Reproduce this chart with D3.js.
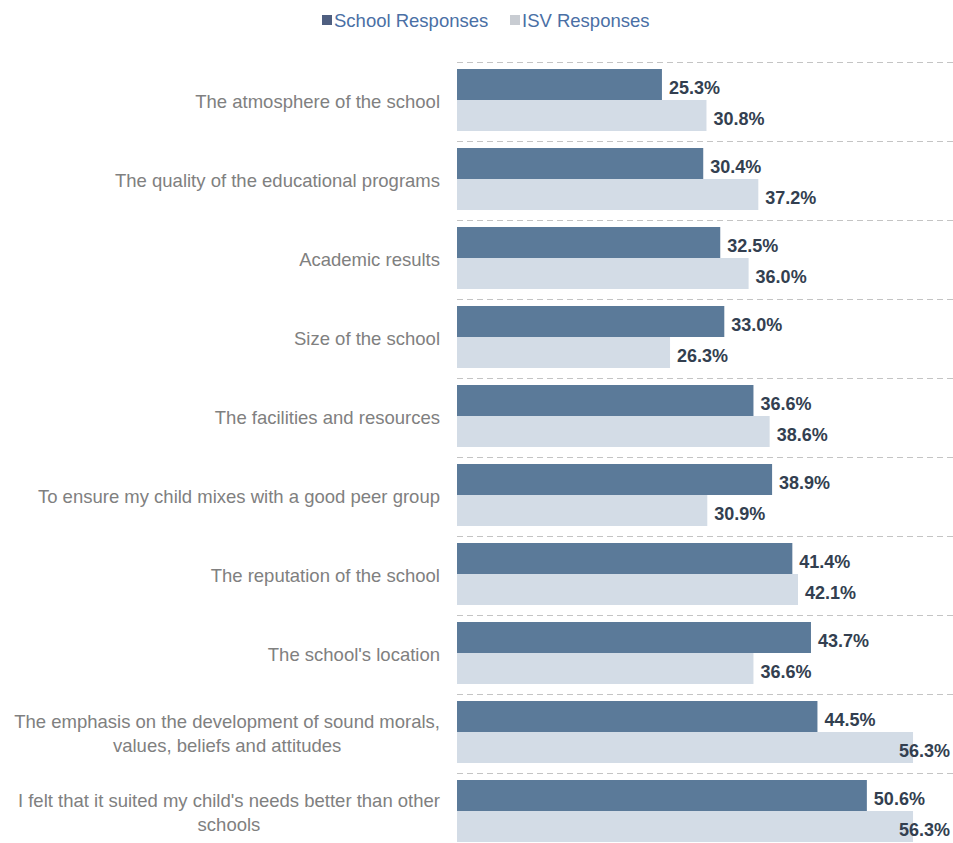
<!DOCTYPE html>
<html>
<head>
<meta charset="utf-8">
<script src="https://cdn.jsdelivr.net/npm/d3@7"></script>
<style>
  body { margin: 0; background: #fff; }
  text { font-family: "Liberation Sans", Arial, sans-serif; }
</style>
</head>
<body>
<div id="chart"></div>
<script>
const categories = [
  ["The atmosphere of the school"],
  ["The quality of the educational programs"],
  ["Academic results"],
  ["Size of the school"],
  ["The facilities and resources"],
  ["To ensure my child mixes with a good peer group"],
  ["The reputation of the school"],
  ["The school's location"],
  ["The emphasis on the development of sound morals,", "values, beliefs and attitudes"],
  ["I felt that it suited my child's needs better than other", "schools"]
];
const schoolValues = [25.3, 30.4, 32.5, 33.0, 36.6, 38.9, 41.4, 43.7, 44.5, 50.6];
const isvValues = [30.8, 37.2, 36.0, 26.3, 38.6, 30.9, 42.1, 36.6, 56.3, 56.3];
const seriesNames = ["School Responses", "ISV Responses"];
const colors = ["#5b7a99", "#d3dce6"];

const width = 953, height = 843;
const svg = d3.select("#chart").append("svg")
  .attr("width", width).attr("height", height);

const x = d3.scaleLinear().domain([0, 60]).range([457, 943]);
const y = d3.scaleBand().domain(d3.range(categories.length)).range([62, 852]);
// bars sit 7px below each separator, 31px tall each
const inner = d3.scaleBand().domain([0, 1]).range([7, 69]);

// dashed separators
svg.selectAll(".sep")
  .data(d3.range(categories.length))
  .enter().append("line")
  .attr("x1", 457).attr("x2", width)
  .attr("y1", d => y(d) + 0.5).attr("y2", d => y(d) + 0.5)
  .attr("stroke", "#c4c4c4")
  .attr("stroke-dasharray", "6,4");

const series = [schoolValues, isvValues];
series.forEach((vals, s) => {
  svg.selectAll(".bar" + s)
    .data(vals)
    .enter().append("rect")
    .attr("x", x(0))
    .attr("y", (d, i) => y(i) + inner(s))
    .attr("width", d => x(d) - x(0))
    .attr("height", inner.bandwidth())
    .attr("fill", colors[s]);

  svg.selectAll(".val" + s)
    .data(vals)
    .enter().append("text")
    .attr("x", d => x(d) + 7)
    .attr("y", (d, i) => y(i) + inner(s) + inner.bandwidth() / 2 + 3)
    .attr("dy", "0.36em")
    .attr("font-size", 18)
    .attr("font-weight", "bold")
    .attr("fill", "#333f50")
    .text(d => d.toFixed(1) + "%")
    .each(function() {
      // keep labels inside the picture
      const w = this.getComputedTextLength();
      const x0 = +this.getAttribute("x");
      if (x0 + w > width - 3) this.setAttribute("x", width - 3 - w);
    });
});

// category labels (block right-aligned, lines centered)
categories.forEach((lines, i) => {
  const g = svg.append("text")
    .attr("font-size", 18.5)
    .attr("fill", "#808080")
    .attr("text-anchor", "middle");
  const lh = 24;
  const cy = y(i) + y.bandwidth() / 2;
  lines.forEach((l, j) => {
    g.append("tspan")
      .attr("y", cy + (j - (lines.length - 1) / 2) * lh)
      .attr("dy", "0.36em")
      .text(l);
  });
  let maxw = 0;
  g.selectAll("tspan").each(function() { maxw = Math.max(maxw, this.getComputedTextLength()); });
  g.selectAll("tspan").attr("x", 440 - maxw / 2);
});

// legend
const legendX = [322, 510];
seriesNames.forEach((n, s) => {
  svg.append("rect")
    .attr("x", legendX[s]).attr("y", 15)
    .attr("width", 10).attr("height", 10)
    .attr("fill", s === 0 ? "#4f5f80" : "#c8ccd2");
  svg.append("text")
    .attr("x", legendX[s] + 12).attr("y", 20)
    .attr("dy", "0.36em")
    .attr("font-size", 18.5)
    .attr("fill", "#4a6fa5")
    .text(n);
});
</script>
</body>
</html>
